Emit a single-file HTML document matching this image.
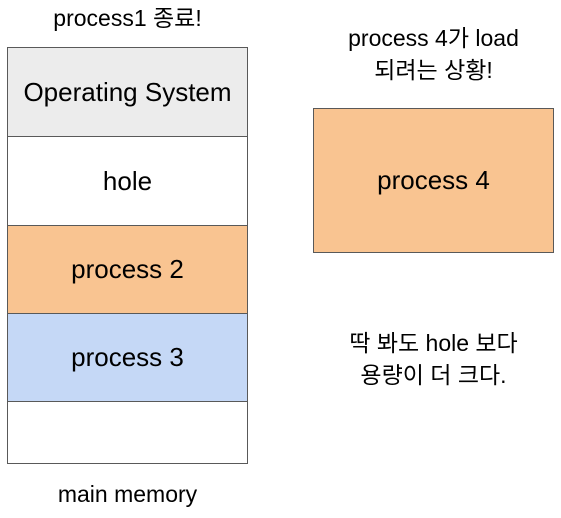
<!DOCTYPE html>
<html><head><meta charset="utf-8"><style>
body{margin:0;width:561px;height:518px;background:#fff;position:relative;font-family:"Liberation Sans","Noto Sans CJK KR",sans-serif;color:#000;overflow:hidden}
.b{position:absolute;box-sizing:border-box;border:1.5px solid #595959;display:flex;align-items:center;justify-content:center;font-size:26px}
.t{position:absolute;text-align:center;font-size:23px;line-height:32px}
</style></head><body>
<div class="t" style="left:0;width:255px;top:2px">process1 종료!</div>
<div class="b" style="left:7px;top:47px;width:241px;height:90px;background:#ececec;font-size:26px">Operating System</div>
<div class="b" style="left:7px;top:136px;width:241px;height:90px;background:#fff">hole</div>
<div class="b" style="left:7px;top:225px;width:241px;height:89px;background:#f9c491">process 2</div>
<div class="b" style="left:7px;top:313px;width:241px;height:89px;background:#c5d8f6">process 3</div>
<div class="b" style="left:7px;top:401px;width:241px;height:63px;background:#fff"></div>
<div class="t" style="left:0;width:255px;top:478px">main memory</div>
<div class="t" style="left:303px;width:261px;top:22px">process 4가 load<br>되려는 상황!</div>
<div class="b" style="left:313px;top:108px;width:241px;height:145px;background:#f9c491">process 4</div>
<div class="t" style="left:303px;width:261px;top:327px">딱 봐도 hole 보다<br>용량이 더 크다.</div>
</body></html>
